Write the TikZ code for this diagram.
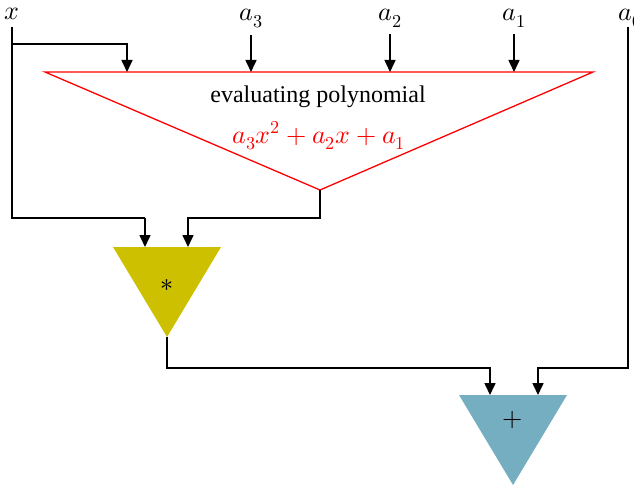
\documentclass[tikz,border=0pt]{standalone}
\usepackage{unicode-math}
\setmainfont{Liberation Serif}
\usetikzlibrary{arrows.meta}
\definecolor{mulyellow}{RGB}{204,192,0}
\definecolor{addblue}{RGB}{117,174,192}
\begin{document}
\begin{tikzpicture}[x=1pt,y=-1pt,line width=1.5pt,>={Triangle[length=12pt,width=11pt]},
  lbl/.style={inner sep=0pt,anchor=base,font=\fontsize{26}{30}\selectfont},
  txt/.style={inner sep=0pt,anchor=base,font=\fontsize{24}{28}\selectfont},
  wire/.style={line width=1.6pt}]
  \useasboundingbox (0,0) rectangle (634,487);
  % --- entradas ---
  \node[lbl] (x) at (12,20) {$x$};
  \node[lbl] (a3) at (251,21) {$a_3$};
  \node[lbl] (a2) at (390,21) {$a_2$};
  \node[lbl] (a1) at (514,21) {$a_1$};
  \node[lbl] (a0) at (630,21) {$a_0$};
  % --- bloque polinomio ---
  \coordinate (pl) at (45,72); \coordinate (pr) at (593,72); \coordinate (pb) at (320,190);
  \draw[red,line width=1.3pt] (pl)--(pr)--(pb)--cycle;
  \node[txt] (ptxt) at (318,102) {evaluating polynomial};
  \node[lbl,text=red] (pform) at (319,143) {$a_3x^2+a_2x+a_1$};
  % --- multiplicador ---
  \coordinate (ml) at (113,247); \coordinate (mr) at (221,247); \coordinate (mb) at (167,337);
  \fill[mulyellow] (ml)--(mr)--(mb)--cycle;
  \node[lbl] (mtxt) at (167,291) {$*$};
  % --- sumador ---
  \coordinate (sl) at (459,395); \coordinate (sr) at (567,395); \coordinate (sb) at (513,485);
  \fill[addblue] (sl)--(sr)--(sb)--cycle;
  \node[lbl] (stxt) at (513,426) {$+$};
  % --- conexiones ---
  \coordinate (xt) at (12,27); \coordinate (a0t) at (628,27);
  \draw[wire] (xt)--(12,218)--(145,218) edge[->] (145,247);
  \draw[wire,->] (12,44)--(127,44)--(127,72);
  \draw[wire,->] (a3.south)++(0,6)--(251,72);
  \draw[wire,->] (a2.south)++(0,6)--(390,72);
  \draw[wire,->] (a1.south)++(0,6)--(514,72);
  \draw[wire,->] (pb)--(320,218)--(188,218)--(188,247);
  \draw[wire,->] (mb)--(167,368)--(490,368)--(490,395);
  \draw[wire,->] (a0t)--(628,368)--(538,368)--(538,395);
\end{tikzpicture}
\end{document}
